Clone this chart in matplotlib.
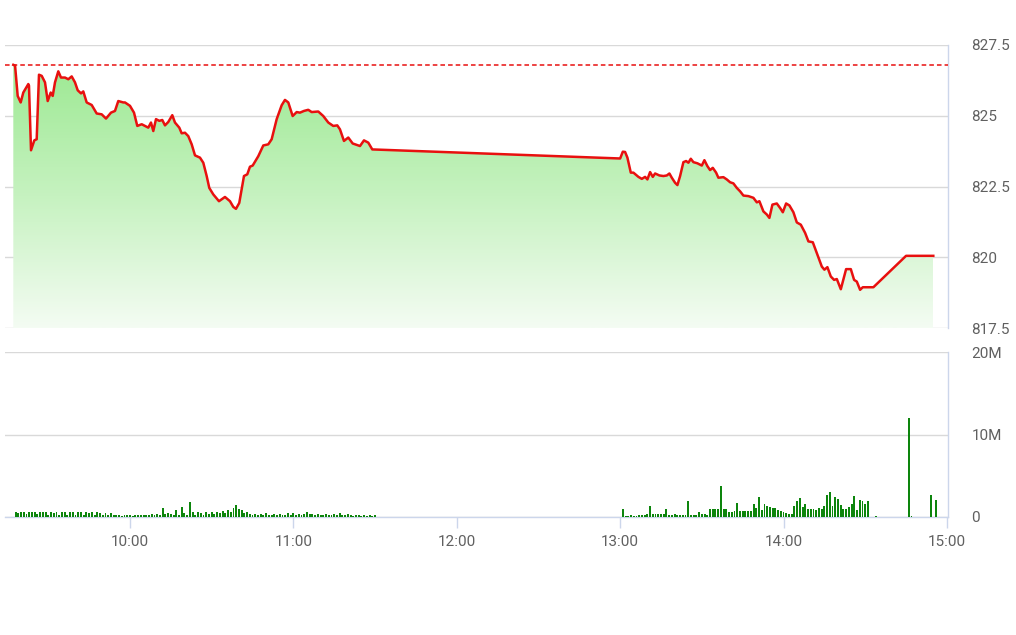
import matplotlib
matplotlib.use("Agg")
import matplotlib.pyplot as plt
import numpy as np
from matplotlib.patches import Polygon
from matplotlib.colors import LinearSegmentedColormap

# ---------------- data (time = minutes after 09:00) ----------------
ref_price = 826.8

price_minutes = [
    17.15, 17.8, 18.76, 19.86, 20.82, 22.66, 22.91, 23.65, 24.86, 25.74,
    26.58, 27.58, 28.79, 29.78, 30.88, 31.62, 32.46, 33.67, 34.66, 36.13,
    37.34, 38.59, 39.80, 40.80, 42.01, 42.85, 44.10, 45.94, 47.77, 49.61,
    51.19, 53.02, 54.49, 55.70, 57.54, 58.16, 60.0, 61.47, 62.68, 64.30,
    65.51, 66.72, 67.71, 68.56, 69.55, 70.76, 71.86, 72.85, 74.06, 75.53,
    76.52, 78.10, 78.98, 80.20, 81.41, 82.66, 83.87, 85.70, 86.92, 88.16,
    89.12, 90.59, 92.68, 94.88, 96.72, 97.93, 98.92, 100.13, 101.86, 103.07,
    104.06, 105.06, 107.11, 108.95, 110.78, 112.03, 113.87, 115.70, 116.91, 118.13,
    119.74, 121.21, 122.42, 123.89, 125.47, 126.72, 129.14, 130.98, 132.82, 134.65,
    136.12, 137.11, 138.58, 140.16, 141.78, 144.46, 145.93, 147.51, 148.98,
    240.0, 240.98, 241.82, 242.67, 243.91, 244.87, 246.71, 247.96, 249.17, 250.01,
    251.0, 251.99, 252.84, 254.42, 255.89, 257.14, 258.09, 258.97, 260.19, 261.03,
    262.02, 263.23, 264.22, 265.07, 265.95, 266.90, 268.37, 269.99, 270.94, 272.04,
    273.03, 274.02, 275.24, 276.08, 277.92, 279.16, 280.38, 281.59, 282.84, 284.05,
    285.26, 287.10, 288.94, 290.19, 291.14, 292.61, 293.86, 294.81, 295.92, 297.53,
    298.75, 299.74, 300.95, 302.16, 303.63, 304.88, 306.35, 307.93, 309.14, 310.75,
    312.22, 314.06, 315.01, 316.11, 317.36, 318.57, 319.57, 321.04, 322.98, 324.71,
    325.92, 326.91, 328.12, 329.11, 333.0, 345.0, 355.0,
]
price_values = [
    826.80, 826.77, 825.70, 825.47, 825.82, 826.12, 826.06, 823.78, 824.13, 824.17,
    826.45, 826.41, 826.18, 825.52, 825.82, 825.70, 826.18, 826.57, 826.35, 826.35,
    826.29, 826.39, 826.18, 825.90, 825.79, 825.86, 825.47, 825.38, 825.08, 825.05,
    824.90, 825.11, 825.17, 825.52, 825.47, 825.47, 825.35, 825.11, 824.64, 824.70,
    824.64, 824.58, 824.76, 824.46, 824.88, 824.82, 824.85, 824.66, 824.78, 825.02,
    824.76, 824.58, 824.38, 824.40, 824.28, 823.99, 823.60, 823.52, 823.34, 822.87,
    822.45, 822.22, 821.98, 822.13, 821.98, 821.78, 821.71, 821.92, 822.87, 822.93,
    823.20, 823.24, 823.57, 823.95, 823.99, 824.17, 824.88, 825.37, 825.56, 825.47,
    824.99, 825.13, 825.11, 825.17, 825.21, 825.13, 825.15, 824.99, 824.76, 824.64,
    824.66, 824.52, 824.11, 824.23, 824.02, 823.93, 824.13, 824.05, 823.81,
    823.49, 823.73, 823.72, 823.52, 822.99, 822.99, 822.84, 822.77, 822.84, 822.75,
    823.01, 822.84, 822.96, 822.89, 822.87, 822.89, 822.96, 822.81, 822.63, 822.55,
    822.87, 823.36, 823.40, 823.34, 823.48, 823.36, 823.32, 823.24, 823.43, 823.22,
    823.08, 823.16, 822.99, 822.81, 822.83, 822.75, 822.65, 822.61, 822.45, 822.33,
    822.18, 822.16, 822.10, 821.94, 821.98, 821.62, 821.51, 821.39, 821.86, 821.90,
    821.74, 821.59, 821.90, 821.83, 821.59, 821.23, 821.15, 820.86, 820.56, 820.53,
    820.15, 819.67, 819.56, 819.65, 819.32, 819.20, 819.23, 818.87, 819.58, 819.58,
    819.20, 819.14, 818.85, 818.94, 818.94, 820.05, 820.05,
]

# volume in millions, one bar per minute
vol_am_minutes = list(range(18, 151))
vol_am = [
    0.55, 0.45, 0.6, 0.6, 0.4, 0.6, 0.65, 0.6, 0.35, 0.6, 0.55, 0.65, 0.3, 0.55, 0.5, 0.6,
    0.25, 0.55, 0.6, 0.3, 0.6, 0.55,
    0.25, 0.6, 0.55, 0.3, 0.6, 0.5, 0.6, 0.25, 0.55, 0.45, 0.3, 0.5, 0.25, 0.45,
    0.3, 0.2, 0.3, 0.15, 0.3, 0.2, 0.3, 0.15, 0.25, 0.3, 0.2, 0.3, 0.25, 0.2, 0.35, 0.3,
    0.35, 0.3, 1.1, 0.4, 0.5, 0.4, 0.3, 0.8, 0.3, 1.2, 0.5, 0.3, 1.8, 0.6, 0.3, 0.55,
    0.45, 0.3, 0.6, 0.4, 0.55, 0.35, 0.6, 0.5, 0.7, 0.45, 0.8, 0.6, 1.1, 1.4, 1.0, 0.8,
    0.5, 0.55, 0.35, 0.3, 0.4, 0.25, 0.35, 0.3, 0.45,
    0.3, 0.2, 0.35, 0.25, 0.4, 0.3, 0.2, 0.45, 0.3, 0.5, 0.2, 0.35, 0.3, 0.4, 0.65, 0.4,
    0.35, 0.3, 0.4, 0.3, 0.25, 0.35, 0.2, 0.3, 0.4, 0.25, 0.5, 0.3, 0.2, 0.35, 0.25, 0.15,
    0.3, 0.2, 0.15, 0.25, 0.1, 0.2, 0.15, 0.2,
]
vol_pm_minutes = list(range(241, 332))
vol_pm = [
    1.0, 0.08, 0.12, 0.28, 0.08, 0.16, 0.28, 0.28, 0.28, 0.4,
    1.37, 0.4, 0.36, 0.4, 0.36, 0.4, 1.0, 0.28, 0.28, 0.32,
    0.24, 0.24, 0.28, 0.2, 1.98, 0.28, 0.24, 0.2, 0.57, 0.4,
    0.36, 0.24, 0.97, 1.0, 1.0, 1.0, 3.8, 1.0, 1.0, 0.6,
    0.6, 0.69, 1.7, 0.77, 0.77, 0.73, 0.69, 0.77, 1.6, 1.1,
    2.4, 0.8, 1.6, 1.3, 1.17, 1.1, 1.1, 0.9, 0.69, 0.6,
    0.48, 0.4, 0.4, 1.37, 1.9, 2.3, 1.17, 1.6, 1.0, 1.0,
    1.0, 0.9, 1.1, 1.0, 1.37, 2.7, 3.0, 1.37, 2.4, 2.2,
    1.5, 0.97, 1.0, 1.2, 1.6, 2.5, 0.9, 2.1, 2.0, 1.6,
    2.0,
]
vol_late_minutes = [334, 346, 347, 351, 352, 354, 356]
vol_late = [0.08, 12.0, 0.08, 0.05, 0.05, 2.7, 2.1]

hour_ticks = [60, 120, 180, 240, 300, 360]
hour_labels = ["10:00", "11:00", "12:00", "13:00", "14:00", "15:00"]
price_ticks = [817.5, 820, 822.5, 825, 827.5]
price_labels = ["817.5", "820", "822.5", "825", "827.5"]
vol_ticks = [0, 10, 20]
vol_labels = ["0", "10M", "20M"]

# ---------------- style ----------------
plt.rcParams['font.family'] = ['Roboto', 'DejaVu Sans']
LABEL_C = "#606060"
GRID_C = "#d9d9d9"
AXIS_C = "#ccd6eb"
LINE_C = "#e8100f"
BAR_C = "#0d850d"

W, H = 1016, 635
fig = plt.figure(figsize=(W / 100, H / 100), dpi=100)
fig.patch.set_facecolor("white")

x_lo, x_hi = 14.1, 360.4
ax = fig.add_axes([5 / W, 1 - 328 / H, 943 / W, 283 / H])
axv = fig.add_axes([5 / W, 1 - 517 / H, 943 / W, 165 / H])

# ---- price panel ----
y_lo, y_hi = 817.5, 827.5
poly_x = [price_minutes[0]] + price_minutes + [price_minutes[-1]]
poly_y = [y_lo] + price_values + [y_lo]
poly = Polygon(np.column_stack([poly_x, poly_y]), closed=True,
               facecolor="none", edgecolor="none")
ax.add_patch(poly)
grad = np.linspace(0, 1, 256).reshape(-1, 1)
cmap = LinearSegmentedColormap.from_list("g", ["#f4fcf3", "#c6f2c0", "#9de993"])
im = ax.imshow(grad, extent=[price_minutes[0], price_minutes[-1], y_lo, ref_price],
               origin="lower", aspect="auto", cmap=cmap, zorder=1,
               interpolation="bilinear")
im.set_clip_path(poly)

ax.plot(price_minutes, price_values, color=LINE_C, lw=1.8, zorder=4,
        solid_joinstyle="round")
ax.axhline(ref_price, color=LINE_C, lw=1.1, ls=(0, (3, 2)), zorder=3)

ax.set_xlim(x_lo, x_hi)
ax.set_ylim(y_lo, y_hi)
ax.set_yticks(price_ticks)
ax.set_yticklabels(price_labels)
ax.yaxis.tick_right()
ax.tick_params(axis="y", length=0, pad=17, labelsize=11, labelcolor=LABEL_C)
ax.set_xticks([])
ax.grid(axis="y", color=GRID_C, lw=1.0, zorder=0)
ax.set_axisbelow(True)
for s in ["top", "left", "bottom"]:
    ax.spines[s].set_visible(False)
ax.spines["right"].set_color(AXIS_C)
ax.spines["right"].set_linewidth(1.0)
for lab in ax.get_yticklabels():
    lab.set_horizontalalignment("left")

# ---- volume panel ----
axv.bar(vol_am_minutes, vol_am, width=0.7, color=BAR_C, zorder=3)
axv.bar(vol_pm_minutes, vol_pm, width=0.7, color=BAR_C, zorder=3)
axv.bar(vol_late_minutes, vol_late, width=0.7, color=BAR_C, zorder=3)
axv.set_xlim(x_lo, x_hi)
axv.set_ylim(0, 20)
axv.set_yticks(vol_ticks)
axv.set_yticklabels(vol_labels)
axv.yaxis.tick_right()
axv.tick_params(axis="y", length=0, pad=17, labelsize=11, labelcolor=LABEL_C)
for lab in axv.get_yticklabels():
    lab.set_horizontalalignment("left")
axv.set_xticks(hour_ticks)
axv.set_xticklabels(hour_labels)
axv.tick_params(axis="x", length=8, width=1.0, color=AXIS_C, pad=5,
                labelsize=11, labelcolor=LABEL_C)
axv.grid(axis="y", color=GRID_C, lw=1.0, zorder=0)
axv.set_axisbelow(True)
for s in ["top", "left"]:
    axv.spines[s].set_visible(False)
for s in ["right", "bottom"]:
    axv.spines[s].set_color(AXIS_C)
    axv.spines[s].set_linewidth(1.0)

fig.savefig("out.png", dpi=100, facecolor="white")
